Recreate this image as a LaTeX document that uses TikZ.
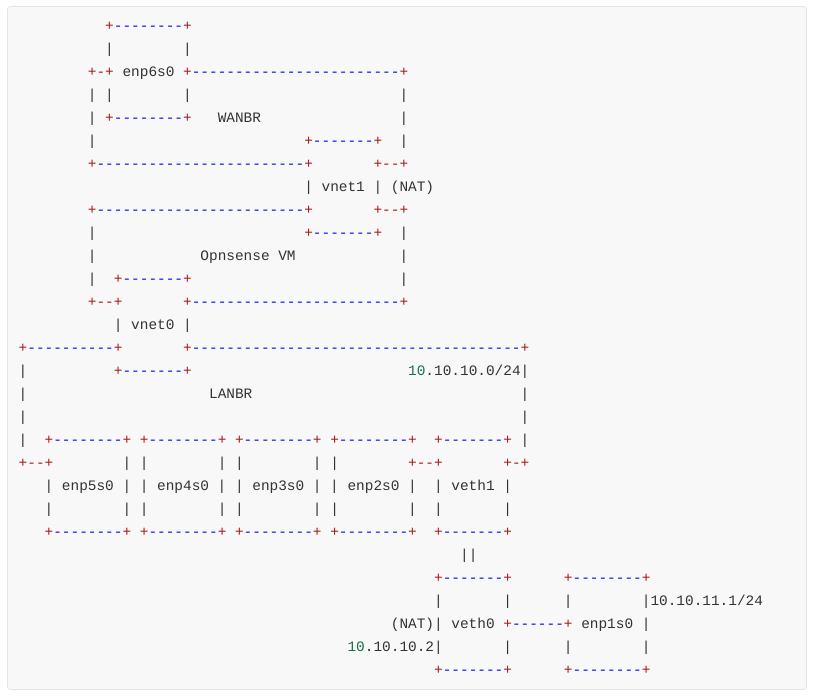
\documentclass[tikz,border=0pt]{standalone}
\usepackage{fontspec}
\newfontfamily\mono{Liberation Mono}
\definecolor{ctext}{HTML}{333333}
\definecolor{cred}{HTML}{AA1818}
\definecolor{cblue}{HTML}{0A0AF0}
\definecolor{cgreen}{HTML}{17704A}
\definecolor{cbg}{HTML}{F8F8F8}
\definecolor{cborder}{HTML}{E4E4E4}
\newcommand\gapc[1]{\foreach\k in {1,...,#1}{\hphantom{+}}}
\newcommand\rp{\textcolor{cred}{+}}
\newcommand\bd[1]{\textcolor{cblue}{\foreach\k in {1,...,#1}{-}}}
\newcommand\rd[1]{\textcolor{cred}{\foreach\k in {1,...,#1}{-}}}
\newcommand\gn[1]{\textcolor{cgreen}{#1}}
\newcommand\monofont{\mono\fontsize{10.817pt}{13pt}\selectfont}
\begin{document}
\begin{tikzpicture}[x=0.75pt,y=-0.75pt,
  ln/.style={anchor=base west,inner sep=0pt,outer sep=0pt,font=\monofont,text=ctext}]
\useasboundingbox (0,0) rectangle (815,697);
\fill[cbg,draw=cborder,rounded corners=2pt] (7.5,6.5) rectangle (806.5,689.5);
\node[ln] (l1)  at (18.7,30.5)  {\gapc{10}\rp\bd{8}\rp};
\node[ln] (l2)  at (18.7,53.5)  {\gapc{10}|\gapc{8}|};
\node[ln] (l3)  at (18.7,76.5)  {\gapc{8}\rp\rd{1}\rp~enp6s0~\rp\bd{24}\rp};
\node[ln] (l4)  at (18.7,99.5)  {\gapc{8}|~|\gapc{8}|\gapc{24}|};
\node[ln] (l5)  at (18.7,122.5) {\gapc{8}|~\rp\bd{8}\rp\gapc{3}WANBR\gapc{16}|};
\node[ln] (l6)  at (18.7,145.5) {\gapc{8}|\gapc{24}\rp\bd{7}\rp\gapc{2}|};
\node[ln] (l7)  at (18.7,168.5) {\gapc{8}\rp\bd{24}\rp\gapc{7}\rp\rd{2}\rp};
\node[ln] (l8)  at (18.7,191.5) {\gapc{33}|~vnet1~|~(NAT)};
\node[ln] (l9)  at (18.7,214.5) {\gapc{8}\rp\bd{24}\rp\gapc{7}\rp\rd{2}\rp};
\node[ln] (l10) at (18.7,237.5) {\gapc{8}|\gapc{24}\rp\bd{7}\rp\gapc{2}|};
\node[ln] (l11) at (18.7,260.5) {\gapc{8}|\gapc{12}Opnsense~VM\gapc{12}|};
\node[ln] (l12) at (18.7,283.5) {\gapc{8}|\gapc{2}\rp\bd{7}\rp\gapc{24}|};
\node[ln] (l13) at (18.7,306.5) {\gapc{8}\rp\rd{2}\rp\gapc{7}\rp\bd{24}\rp};
\node[ln] (l14) at (18.7,329.5) {\gapc{11}|~vnet0~|};
\node[ln] (l15) at (18.7,352.5) {\rp\bd{10}\rp\gapc{7}\rp\bd{38}\rp};
\node[ln] (l16) at (18.7,375.5) {|\gapc{10}\rp\bd{7}\rp\gapc{25}\gn{10}.10.10.0/24|};
\node[ln] (l17) at (18.7,398.5) {|\gapc{21}LANBR\gapc{31}|};
\node[ln] (l18) at (18.7,421.5) {|\gapc{57}|};
\node[ln] (l19) at (18.7,444.5) {|\gapc{2}\rp\bd{8}\rp~\rp\bd{8}\rp~\rp\bd{8}\rp~\rp\bd{8}\rp\gapc{2}\rp\bd{7}\rp~|};
\node[ln] (l20) at (18.7,467.5) {\rp\rd{2}\rp\gapc{8}|~|\gapc{8}|~|\gapc{8}|~|\gapc{8}\rp\rd{2}\rp\gapc{7}\rp\rd{1}\rp};
\node[ln] (l21) at (18.7,490.5) {\gapc{3}|~enp5s0~|~|~enp4s0~|~|~enp3s0~|~|~enp2s0~|\gapc{2}|~veth1~|};
\node[ln] (l22) at (18.7,513.5) {\gapc{3}|\gapc{8}|~|\gapc{8}|~|\gapc{8}|~|\gapc{8}|\gapc{2}|\gapc{7}|};
\node[ln] (l23) at (18.7,536.5) {\gapc{3}\rp\bd{8}\rp~\rp\bd{8}\rp~\rp\bd{8}\rp~\rp\bd{8}\rp\gapc{2}\rp\bd{7}\rp};
\node[ln] (l24) at (18.7,559.5) {\gapc{51}||};
\node[ln] (l25) at (18.7,582.5) {\gapc{48}\rp\bd{7}\rp\gapc{6}\rp\bd{8}\rp};
\node[ln] (l26) at (18.7,605.5) {\gapc{48}|\gapc{7}|\gapc{6}|\gapc{8}|10.10.11.1/24};
\node[ln] (l27) at (18.7,628.5) {\gapc{43}(NAT)|~veth0~\rp\bd{6}\rp~enp1s0~|};
\node[ln] (l28) at (18.7,651.5) {\gapc{38}\gn{10}.10.10.2|\gapc{7}|\gapc{6}|\gapc{8}|};
\node[ln] (l29) at (18.7,674.5) {\gapc{48}\rp\bd{7}\rp\gapc{6}\rp\bd{8}\rp};
\end{tikzpicture}
\end{document}
